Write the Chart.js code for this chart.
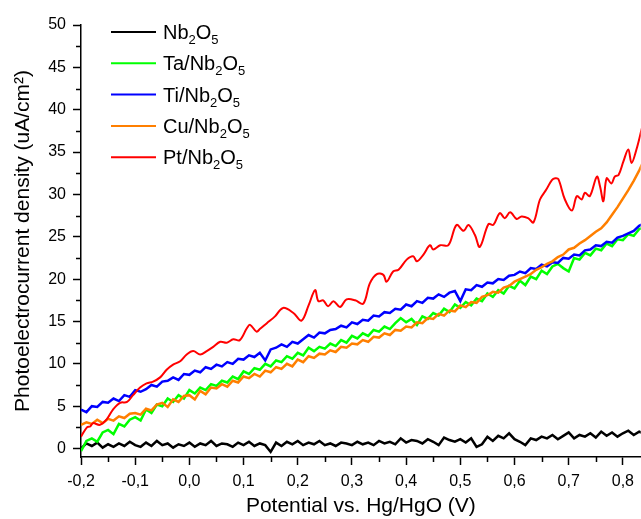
<!DOCTYPE html>
<html>
<head>
<meta charset="utf-8">
<script src="https://cdn.jsdelivr.net/npm/chart.js@4.4.1/dist/chart.umd.min.js"></script>
<style>
	html, body { margin: 0; padding: 0; background: #fff; }
</style>
</head>
<body>
<canvas id="myChart" width="641" height="519"></canvas>
<script>
// potential grid (V) shared by the noisy scans
const potential = [
	-0.20, -0.19, -0.18, -0.17, -0.16, -0.15, -0.14, -0.13, -0.12, -0.11,
	-0.10, -0.09, -0.08, -0.07, -0.06, -0.05, -0.04, -0.03, -0.02, -0.01,
	0.00, 0.01, 0.02, 0.03, 0.04, 0.05, 0.06, 0.07, 0.08, 0.09,
	0.10, 0.11, 0.12, 0.13, 0.14, 0.15, 0.16, 0.17, 0.18, 0.19,
	0.20, 0.21, 0.22, 0.23, 0.24, 0.25, 0.26, 0.27, 0.28, 0.29,
	0.30, 0.31, 0.32, 0.33, 0.34, 0.35, 0.36, 0.37, 0.38, 0.39,
	0.40, 0.41, 0.42, 0.43, 0.44, 0.45, 0.46, 0.47, 0.48, 0.49,
	0.50, 0.51, 0.52, 0.53, 0.54, 0.55, 0.56, 0.57, 0.58, 0.59,
	0.60, 0.61, 0.62, 0.63, 0.64, 0.65, 0.66, 0.67, 0.68, 0.69,
	0.70, 0.71, 0.72, 0.73, 0.74, 0.75, 0.76, 0.77, 0.78, 0.79,
	0.80, 0.81, 0.82, 0.83, 0.84
];

const nb2o5 = [
	0.0, 0.6, 0.3, 0.7, 0.1, 0.5, 0.2, 0.6, 0.3, 0.8,
	0.4, 0.2, 0.7, 0.3, 0.9, 0.4, 0.6, 0.1, 0.5, 0.3,
	0.7, 0.2, 0.6, 0.4, 0.9, 0.3, 0.6, 0.5, 0.2, 0.7,
	0.4, 0.8, 0.3, 0.6, 0.4, -0.4, 0.7, 0.3, 0.8, 0.5,
	0.9, 0.4, 0.7, 0.5, 0.9, 0.4, 0.6, 0.3, 0.7, 0.6,
	0.4, 0.8, 0.5, 0.7, 0.4, 0.9, 0.6, 0.8, 0.5, 1.2,
	0.7, 1.0, 0.9, 0.6, 1.1, 0.8, 0.4, 1.3, 1.0, 0.8,
	1.1, 0.7, 1.2, 0.2, 0.5, 1.4, 0.9, 1.5, 1.2, 1.8,
	1.1, 0.8, 0.4, 1.2, 1.0, 1.4, 1.2, 1.6, 1.1, 1.5,
	1.9, 1.2, 1.6, 1.4, 1.8, 1.3, 2.0, 1.5, 1.9, 1.4,
	1.8, 2.1, 1.6, 2.0, 1.7
];

const taNb2o5 = [
	-0.3, 0.9, 1.2, 0.8, 1.9, 2.2, 1.7, 2.9, 2.6, 3.4,
	3.7, 3.3, 4.6, 4.2, 5.2, 5.0, 5.9, 5.5, 6.3, 5.9,
	6.9, 6.5, 7.2, 6.9, 7.6, 7.4, 8.0, 7.8, 8.5, 8.2,
	9.1, 8.8, 9.5, 9.3, 10.0, 9.7, 10.4, 10.2, 10.9, 10.6,
	11.3, 11.0, 11.9, 11.5, 12.0, 11.8, 12.4, 12.1, 12.8, 12.5,
	13.3, 13.0, 13.6, 13.3, 14.0, 13.8, 14.4, 14.1, 14.8, 15.4,
	14.9, 15.3, 14.6, 15.6, 15.3, 16.0, 15.7, 16.5, 16.1, 17.0,
	16.6, 17.3, 16.9, 17.7, 17.4, 18.3, 17.9, 18.7, 18.3, 19.2,
	18.9, 19.8, 19.3, 20.3, 20.0, 21.0, 20.6, 21.5, 21.8, 21.3,
	20.9, 22.5, 22.3, 23.1, 22.8, 23.6, 23.4, 24.2, 23.9, 24.7,
	24.6, 25.3, 25.1, 25.9, 26.1
];

const tiNb2o5 = [
	4.6, 4.3, 5.0, 4.9, 5.5, 5.4, 5.9, 5.6, 6.3, 6.1,
	6.9, 6.7, 7.0, 7.5, 7.3, 7.9, 8.0, 8.4, 8.1, 8.8,
	8.7, 9.2, 9.0, 9.6, 9.4, 9.9, 9.7, 10.2, 10.0, 10.6,
	10.5, 11.0, 10.8, 11.3, 10.4, 11.7, 11.9, 12.3, 12.0, 12.6,
	12.4, 12.9, 13.4, 13.1, 13.7, 13.6, 14.0, 14.1, 14.5, 14.3,
	14.9, 14.7, 15.2, 15.1, 15.7, 15.6, 16.1, 16.0, 16.5, 16.4,
	17.0, 16.8, 17.4, 17.2, 17.8, 17.7, 18.2, 17.9, 18.4, 18.6,
	17.4, 18.8, 18.7, 19.3, 19.1, 19.6, 19.5, 20.0, 19.9, 20.4,
	20.5, 20.9, 20.7, 21.3, 21.2, 21.7, 21.5, 22.0, 21.9, 22.5,
	22.4, 22.9, 22.8, 23.4, 23.5, 24.0, 23.9, 24.4, 24.3, 24.9,
	25.1, 25.4, 25.7, 26.3, 26.6
];

const cuNb2o5 = [
	2.8, 3.1, 2.9, 3.4, 3.0, 3.5, 3.3, 3.8, 3.6, 4.1,
	4.2, 4.0, 4.7, 4.5, 5.2, 5.4, 4.9, 5.8, 5.5, 6.2,
	6.3, 5.8, 6.8, 6.4, 7.2, 7.1, 7.6, 7.3, 8.0, 7.8,
	8.5, 8.3, 8.8, 8.5, 9.2, 9.0, 9.6, 9.4, 10.0, 9.7,
	10.5, 10.2, 10.9, 10.7, 11.2, 11.1, 11.6, 11.4, 12.0, 11.9,
	12.4, 12.3, 12.8, 12.6, 13.2, 13.1, 13.6, 13.4, 14.0, 13.9,
	14.4, 14.3, 14.9, 14.8, 15.4, 15.3, 15.9, 15.7, 16.3, 16.2,
	16.9, 16.7, 17.3, 17.2, 17.9, 18.1, 18.5, 18.4, 19.0, 19.2,
	19.7, 20.0, 20.3, 20.6, 21.1, 21.4, 21.8, 22.1, 22.6, 22.9,
	23.5, 23.7, 24.2, 24.6, 25.1, 25.6, 26.0, 26.7, 27.6, 28.5,
	29.5, 30.5, 31.6, 32.8, 34.2
];

// Pt scan is smooth, read at its turning points
const ptPotential = [
	-0.200, -0.189, -0.183, -0.178, -0.165, -0.152, -0.141, -0.128, -0.115, -0.104,
	-0.091, -0.079, -0.067, -0.054, -0.042, -0.030, -0.017, -0.005, 0.007, 0.020,
	0.032, 0.044, 0.057, 0.069, 0.081, 0.093, 0.106, 0.112, 0.124, 0.130,
	0.143, 0.158, 0.173, 0.192, 0.207, 0.220, 0.232, 0.238, 0.247, 0.256,
	0.266, 0.278, 0.290, 0.306, 0.321, 0.333, 0.346, 0.358, 0.364, 0.376,
	0.386, 0.401, 0.413, 0.420, 0.432, 0.444, 0.450, 0.463, 0.478, 0.493,
	0.506, 0.515, 0.527, 0.536, 0.552, 0.561, 0.573, 0.582, 0.592, 0.604,
	0.613, 0.625, 0.635, 0.647, 0.659, 0.669, 0.675, 0.681, 0.693, 0.706,
	0.715, 0.724, 0.730, 0.739, 0.752, 0.758, 0.764, 0.770, 0.779, 0.785,
	0.792, 0.801, 0.810, 0.816, 0.825, 0.835
];
const ptNb2o5 = [
	1.4, 2.5, 2.6, 3.0, 2.8, 3.5, 4.6, 5.4, 5.5, 6.3,
	7.2, 7.7, 7.9, 8.4, 9.3, 9.9, 10.3, 11.1, 11.5, 11.1,
	11.5, 12.0, 12.6, 12.5, 12.9, 12.8, 14.2, 14.6, 13.8, 14.1,
	14.8, 15.6, 16.6, 16.0, 15.1, 16.9, 18.7, 17.4, 17.5, 16.8,
	17.4, 16.7, 17.6, 17.5, 17.1, 19.5, 20.6, 20.5, 19.7, 20.9,
	21.1, 22.3, 22.7, 22.1, 22.9, 24.0, 23.5, 24.0, 24.0, 26.4,
	25.7, 26.4, 25.2, 23.8, 26.5, 26.4, 27.8, 27.2, 27.9, 27.1,
	27.4, 27.2, 26.7, 29.4, 30.6, 31.7, 31.9, 31.8, 29.4, 28.1,
	29.8, 29.4, 30.2, 29.8, 32.1, 30.9, 29.2, 31.9, 31.3, 32.1,
	32.3, 33.9, 35.3, 33.7, 35.3, 37.8
];

const xTicks = [-0.2, -0.1, 0.0, 0.1, 0.2, 0.3, 0.4, 0.5, 0.6, 0.7, 0.8];
const xMinor = [-0.15, -0.05, 0.05, 0.15, 0.25, 0.35, 0.45, 0.55, 0.65, 0.75];
const yTicks = [0, 5, 10, 15, 20, 25, 30, 35, 40, 45, 50];
const yMinor = [2.5, 7.5, 12.5, 17.5, 22.5, 27.5, 32.5, 37.5, 42.5, 47.5];

const FONT = '"Liberation Sans", Arial, sans-serif';

function pts(xs, ys) {
	return xs.map((x, i) => ({ x: x, y: ys[i] }));
}

// short minor ticks between the labelled ones
const minorTicks = {
	id: 'minorTicks',
	afterDraw(chart) {
		const { ctx, chartArea, scales } = chart;
		ctx.save();
		ctx.strokeStyle = '#000';
		ctx.lineWidth = 1.5;
		ctx.beginPath();
		xMinor.forEach(v => {
			const px = Math.round(scales.x.getPixelForValue(v)) + 0.5;
			ctx.moveTo(px, chartArea.bottom);
			ctx.lineTo(px, chartArea.bottom + 5);
		});
		yMinor.forEach(v => {
			const py = Math.round(scales.y.getPixelForValue(v)) + 0.5;
			ctx.moveTo(chartArea.left, py);
			ctx.lineTo(chartArea.left - 5, py);
		});
		ctx.stroke();
		ctx.restore();
	}
};

// legend inside the plot, with real subscripts
function drawRich(ctx, text, x, y) {
	text.split(/(_\d)/).forEach(p => {
		if (!p) return;
		if (p[0] === '_') {
			ctx.font = '13px ' + FONT;
			ctx.fillText(p[1], x, y + 5);
			x += ctx.measureText(p[1]).width;
		} else {
			ctx.font = '20px ' + FONT;
			ctx.fillText(p, x, y);
			x += ctx.measureText(p).width;
		}
	});
}

const insideLegend = {
	id: 'insideLegend',
	afterDraw(chart) {
		const { ctx, chartArea } = chart;
		ctx.save();
		ctx.textBaseline = 'alphabetic';
		chart.data.datasets.forEach((ds, i) => {
			const y = chartArea.top + 7 + i * 31.3;
			ctx.strokeStyle = ds.borderColor;
			ctx.lineWidth = 2;
			ctx.beginPath();
			ctx.moveTo(chartArea.left + 30, y);
			ctx.lineTo(chartArea.left + 75, y);
			ctx.stroke();
			ctx.fillStyle = '#000';
			drawRich(ctx, ds.label, chartArea.left + 82, y + 7);
		});
		ctx.restore();
	}
};

const ctx = document.getElementById('myChart').getContext('2d');

new Chart(ctx, {
	type: 'line',
	data: {
		datasets: [{
			label: 'Nb_2O_5',
			data: pts(potential, nb2o5),
			borderColor: '#000000',
			order: 5
		}, {
			label: 'Ta/Nb_2O_5',
			data: pts(potential, taNb2o5),
			borderColor: '#00ff00',
			order: 4
		}, {
			label: 'Ti/Nb_2O_5',
			data: pts(potential, tiNb2o5),
			borderColor: '#0000ff',
			order: 3
		}, {
			label: 'Cu/Nb_2O_5',
			data: pts(potential, cuNb2o5),
			borderColor: '#ff7f00',
			order: 2
		}, {
			label: 'Pt/Nb_2O_5',
			data: pts(ptPotential, ptNb2o5),
			borderColor: '#ff0000',
			borderWidth: 2,
			tension: 0.35,
			order: 1
		}]
	},
	options: {
		responsive: false,
		animation: false,
		layout: {
			padding: { top: 25, right: 0, bottom: 0, left: 0 }
		},
		elements: {
			point: { radius: 0 },
			line: { borderWidth: 2.5, tension: 0 }
		},
		plugins: {
			legend: { display: false },
			tooltip: { enabled: false }
		},
		scales: {
			x: {
				type: 'linear',
				min: -0.2,
				max: 0.833,
				afterBuildTicks: (scale) => {
					scale.ticks = xTicks.map(v => ({ value: v }));
				},
				afterFit: (scale) => {
					scale.height = 62;
				},
				ticks: {
					color: '#000',
					font: { family: FONT, size: 16 },
					padding: 7,
					maxRotation: 0,
					autoSkip: false,
					callback: (v) => v.toFixed(1).replace('.', ',')
				},
				grid: {
					drawOnChartArea: false,
					tickLength: 8,
					tickColor: '#000',
					tickWidth: 1.5
				},
				border: { color: '#000', width: 1.5 },
				title: {
					display: true,
					text: 'Potential vs. Hg/HgO (V)',
					color: '#000',
					font: { family: FONT, size: 21 },
					padding: 0
				}
			},
			y: {
				min: -1,
				max: 50,
				afterBuildTicks: (scale) => {
					scale.ticks = yTicks.map(v => ({ value: v }));
				},
				afterFit: (scale) => {
					scale.width = 81;
				},
				ticks: {
					color: '#000',
					font: { family: FONT, size: 16 },
					padding: 7,
					callback: (v) => String(v)
				},
				grid: {
					drawOnChartArea: false,
					tickLength: 8,
					tickColor: '#000',
					tickWidth: 1.5
				},
				border: { color: '#000', width: 1.5 },
				title: {
					display: true,
					text: 'Photoelectrocurrent density (uA/cm\u00b2)',
					color: '#000',
					font: { family: FONT, size: 21 },
					padding: { top: 11, bottom: 0 }
				}
			}
		}
	},
	plugins: [minorTicks, insideLegend]
});
</script>
</body>
</html>
